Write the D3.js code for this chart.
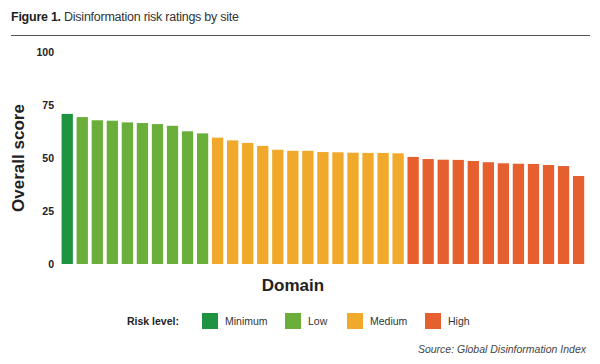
<!DOCTYPE html>
<meta charset="utf-8">
<style>
	body { margin: 0; background: #fff; }
	text { font-family: "Liberation Sans", Arial, sans-serif; fill: #222; }
</style>
<body>
<svg id="svg"></svg>
<script src="https://cdn.jsdelivr.net/npm/d3@7/dist/d3.min.js"></script>
<script>

// DATA
var scores = [
	70.8, 69.3, 67.8, 67.6, 66.8, 66.5, 66.0, 65.2, 62.6, 61.6,
	59.6, 58.3, 57.1, 55.7, 53.9, 53.4, 53.4, 52.8, 52.7, 52.5, 52.4, 52.4, 52.2,
	50.5, 49.5, 49.2, 49.1, 48.6, 48.0, 47.5, 47.3, 47.2, 46.7, 46.2, 41.5
]
var levels = [ 'Minimum', 'Low', 'Medium', 'High' ]
var levelCounts = [ 1, 9, 13, 12 ]
var yTicks = [ 0, 25, 50, 75, 100 ]
var colors = [ '#1f9440', '#6aaf3a', '#f1a92b', '#e55f2f' ]

// one risk level per bar, in order
var riskOf = []
levelCounts.forEach( ( n, i )=> {
	for( let k = 0; k < n; k++ ) riskOf.push( levels[ i ] )
})
var bars = scores.map( ( v, i )=> ({ id: i, score: v, risk: riskOf[ i ] }) )

// CANVAS
var width = 600
var height = 364

var svg = d3.select( '#svg' )
	.attr( 'width', width )
	.attr( 'height', height )

// TITLE
var title = svg.append( 'text' )
	.attr( 'x', 11 )
	.attr( 'y', 21 )
	.style( 'font-size', '12.5px' )
	.style( 'letter-spacing', '-0.25px' )
title.append( 'tspan' ).style( 'font-weight', 'bold' ).text( 'Figure 1.' )
title.append( 'tspan' ).style( 'fill', '#333' ).text( ' Disinformation risk ratings by site' )

svg.append( 'line' )
	.attr( 'x1', 11 ).attr( 'x2', 590 )
	.attr( 'y1', 35.5 ).attr( 'y2', 35.5 )
	.attr( 'stroke', '#555' )
	.attr( 'stroke-width', 1 )

// SCALES
var x = d3.scaleBand()
	.domain( bars.map( d => d.id ))
	.range([ 59.7, 586.1 ])
	.paddingInner( 0.25 )
	.paddingOuter( 0.125 )

var y = d3.scaleLinear()
	.domain([ 0, 100 ])
	.range([ 264, 52 ])

var color = d3.scaleOrdinal()
	.domain( levels )
	.range( colors )

// Y axis (labels only)
var yAxis = svg.append( 'g' )
	.attr( 'transform', 'translate(54,0)' )
	.call( d3.axisLeft( y ).tickValues( yTicks ).tickSize( 0 ).tickPadding( 0 ))
yAxis.select( '.domain' ).remove()
yAxis.selectAll( 'text' )
	.style( 'font-family', '"Liberation Sans", Arial, sans-serif' )
	.style( 'font-size', '10.5px' )
	.style( 'font-weight', 'bold' )
	.attr( 'fill', '#222' )

svg.append( 'text' )
	.attr( 'transform', 'translate(24,' + 158 + ') rotate(-90)' )
	.attr( 'text-anchor', 'middle' )
	.style( 'font-size', '17px' )
	.style( 'font-weight', 'bold' )
	.text( 'Overall score' )

// BARS
svg.append( 'g' )
	.selectAll( 'rect' )
	.data( bars )
	.enter()
	.append( 'rect' )
		.attr( 'x', d => x( d.id ))
		.attr( 'y', d => y( d.score ))
		.attr( 'width', x.bandwidth() )
		.attr( 'height', d => y( 0 ) - y( d.score ))
		.attr( 'fill', d => color( d.risk ))

// X title
svg.append( 'text' )
	.attr( 'x', 293 )
	.attr( 'y', 291 )
	.attr( 'text-anchor', 'middle' )
	.style( 'font-size', '17px' )
	.style( 'font-weight', 'bold' )
	.text( 'Domain' )

// LEGEND
svg.append( 'text' )
	.attr( 'x', 127 )
	.attr( 'y', 325 )
	.style( 'font-size', '10.5px' )
	.style( 'font-weight', 'bold' )
	.text( 'Risk level:' )

var legendX = [ 202, 285, 347, 425 ]
var legend = svg.append( 'g' )
	.selectAll( 'g' )
	.data( levels )
	.enter()
	.append( 'g' )
		.attr( 'transform', ( d, i )=> 'translate(' + legendX[ i ] + ',313)' )

legend.append( 'rect' )
	.attr( 'width', 16 )
	.attr( 'height', 16 )
	.attr( 'fill', d => color( d ))

legend.append( 'text' )
	.attr( 'x', 23 )
	.attr( 'y', 12 )
	.style( 'font-size', '10.5px' )
	.style( 'fill', '#333' )
	.text( d => d )

// SOURCE
svg.append( 'text' )
	.attr( 'x', 586 )
	.attr( 'y', 353 )
	.attr( 'text-anchor', 'end' )
	.style( 'font-size', '10.5px' )
	.style( 'font-style', 'italic' )
	.style( 'fill', '#444' )
	.text( 'Source: Global Disinformation Index' )

</script>
</body>
